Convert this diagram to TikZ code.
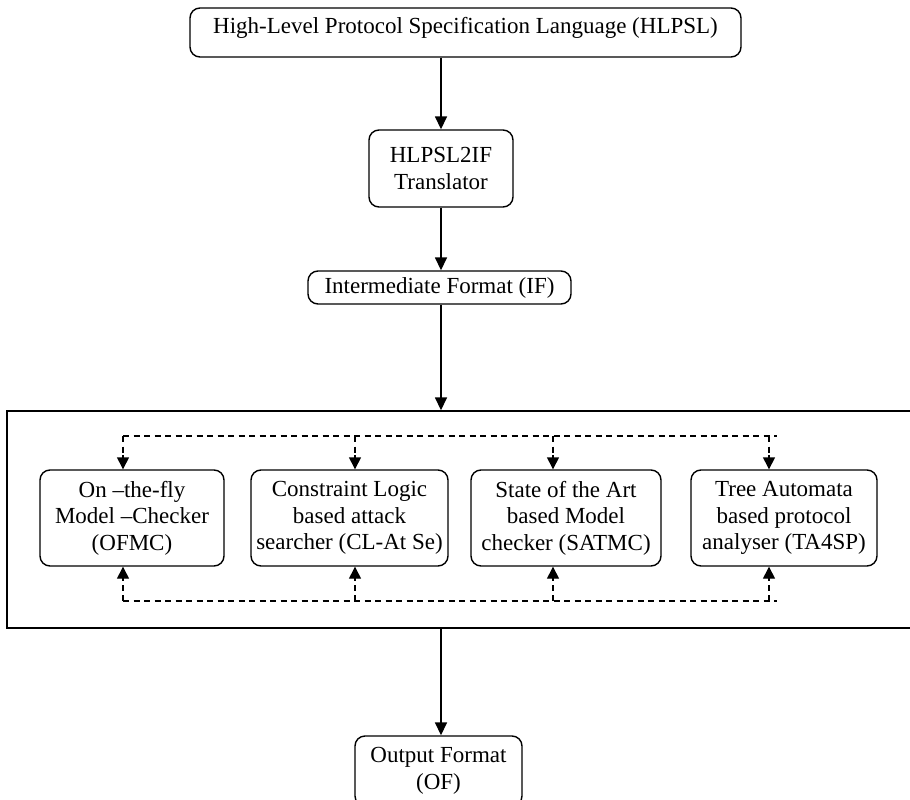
\documentclass[tikz,border=0pt]{standalone}
\usepackage{fontspec}
\setmainfont{Liberation Serif}
\usetikzlibrary{arrows.meta}
\begin{document}
\begin{tikzpicture}[x=1pt,y=-1pt,
  every node/.style={font=\fontsize{23}{26.5}\selectfont, align=center, inner sep=0pt},
  rbox/.style={draw, line width=1.4pt, rounded corners=10pt},
  solidarrow/.style={line width=1.6pt, -{Triangle[length=13pt,width=12pt]}},
  dashline/.style={line width=1.4pt, dash pattern=on 6pt off 4.5pt},
  tiponly/.style={line width=1.4pt, solid, -{Triangle[length=12pt,width=12pt]}}]
\clip (0,0) rectangle (910,800);
\fill[white] (0,0) rectangle (910,800);
% boxes
\node[rbox, minimum width=551pt, minimum height=49pt, text depth=14pt] (top) at (465.5,32.5) {High-Level Protocol Specification Language (HLPSL)};
\node[rbox, minimum width=144pt, minimum height=77pt] (hl) at (441,168.5) {HLPSL2IF\\Translator};
\node[rbox, minimum width=263pt, minimum height=33pt] (if) at (439.5,287.5) {Intermediate Format (IF)};
\node[draw, line width=1.4pt, minimum width=911pt, minimum height=217pt] (big) at (462.5,519.5) {};
\node[rbox, minimum width=184pt, minimum height=96pt] (ofmc) at (132,518) {On --the-fly\\Model --Checker\\(OFMC)};
\node[rbox, minimum width=197pt, minimum height=96pt] (cl) at (349.5,518) {Constraint Logic\\based attack\\searcher (CL-At Se)};
\node[rbox, minimum width=190pt, minimum height=96pt] (sat) at (566,518) {State of the Art\\based Model\\checker (SATMC)};
\node[rbox, minimum width=186pt, minimum height=96pt] (ta) at (784,518) {Tree Automata\\based protocol\\analyser (TA4SP)};
\node[rbox, minimum width=167pt, minimum height=70pt] (of) at (438.5,771) {Output Format\\(OF)};
% solid arrows
\draw[solidarrow] (hl.north |- top.south) -- (hl.north);
\draw[solidarrow] (hl.south) -- (if.north -| hl.south);
\draw[solidarrow] (if.south -| hl.south) -- (big.north -| hl.south);
\draw[solidarrow] (big.south -| hl.south) -- (of.north -| hl.south);
% dashed network
\coordinate (t1) at (123,436);
\coordinate (t2) at (355,436);
\coordinate (t3) at (553,436);
\coordinate (t4) at (769,436);
\coordinate (tend) at (777,436);
\coordinate (b1) at (123,601);
\coordinate (b2) at (355,601);
\coordinate (b3) at (553,601);
\coordinate (b4) at (769,601);
\coordinate (bend) at (777,601);
\draw[dashline] (t1) -- (tend);
\draw[dashline] (b1) -- (bend);
\foreach \c/\n in {t1/ofmc,t2/cl,t3/sat,t4/ta}{
  \draw[dashline] (\c) -- ([yshift=11pt]\c |- \n.north);
  \draw[tiponly] ([yshift=14pt]\c |- \n.north) -- (\c |- \n.north);
}
\foreach \c/\n in {b1/ofmc,b2/cl,b3/sat,b4/ta}{
  \draw[dashline] (\c) -- ([yshift=-11pt]\c |- \n.south);
  \draw[tiponly] ([yshift=-14pt]\c |- \n.south) -- (\c |- \n.south);
}
\end{tikzpicture}
\end{document}
